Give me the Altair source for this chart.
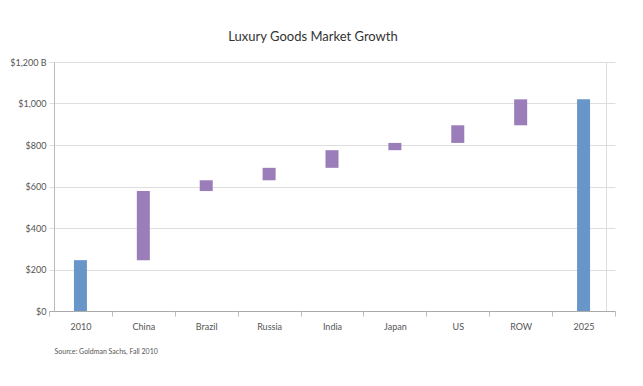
import altair as alt
import pandas as pd

categories = ["2010", "China", "Brazil", "Russia", "India", "Japan", "US", "ROW", "2025"]
low_values = [0, 245, 578, 630, 690, 775, 810, 895, 0]
high_values = [245, 578, 630, 690, 775, 810, 895, 1020, 1020]
kinds = ["total", "step", "step", "step", "step", "step", "step", "step", "total"]
y_ticks = [0, 200, 400, 600, 800, 1000, 1200]

df = pd.DataFrame({"cat": categories, "low": low_values, "high": high_values, "kind": kinds})

FONT = "Lato"

bars = alt.Chart(df).mark_bar(size=13).encode(
    x=alt.X("cat:N", sort=categories,
            scale=alt.Scale(paddingInner=0, paddingOuter=0, range=[-5, 561]),
            axis=alt.Axis(title="Source: Goldman Sachs, Fall 2010", titleAnchor="start",
                          titleAlign="left", titleX=0, titleY=36, titleFontSize=7,
                          titleFontWeight="normal", titleColor="#555", titleFont=FONT,
                          labelAngle=0, labelFont=FONT, labelFontSize=9, labelColor="#555",
                          labelPadding=6, tickBand="extent", tickSize=5, tickColor="#bbb",
                          domain=False, grid=False)),
    y=alt.Y("low:Q", scale=alt.Scale(domain=[0, 1200], nice=False),
            axis=alt.Axis(title=None, values=y_ticks,
                          labelExpr="datum.value == 1200 ? '$1,200 B' : '$' + format(datum.value, ',')",
                          labelFont=FONT, labelFontSize=9, labelColor="#555", labelPadding=8,
                          ticks=False, domainColor="#bbb",
                          gridColor=alt.condition("datum.value == 0", alt.value("#aaa"), alt.value("#dedede")))),
    y2="high:Q",
    color=alt.Color("kind:N", scale=alt.Scale(domain=["total", "step"], range=["#6896c8", "#9b7db9"]),
                    legend=None),
)

chart = bars.properties(
    width=552, height=249,
    title=alt.TitleParams("Luxury Goods Market Growth", font=FONT, fontSize=13,
                          fontWeight="normal", color="#333", anchor="middle", dx=-17, offset=14),
    autosize=alt.AutoSizeParams(type="none"),
    padding={"left": 46, "top": 54, "right": 29, "bottom": 67},
).configure_view(stroke=None).configure(background="white")

chart.save("out.html", embed_options={"renderer": "svg", "actions": False})
